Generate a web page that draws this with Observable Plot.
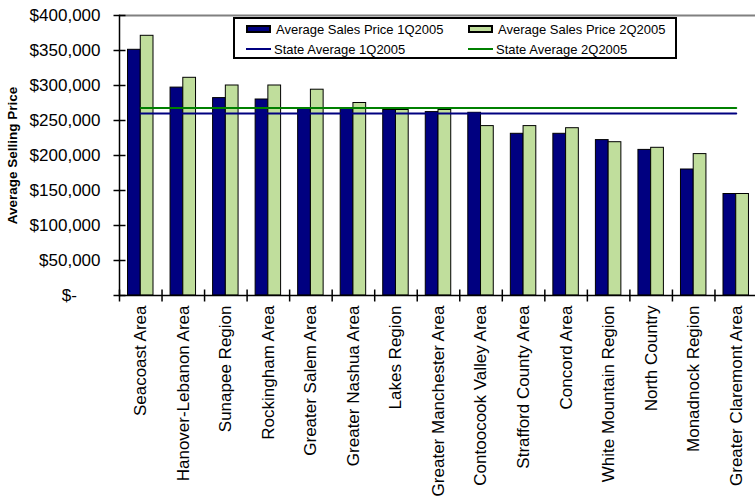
<!DOCTYPE html>
<html>
<head>
<meta charset="utf-8">
<script src="https://cdn.jsdelivr.net/npm/d3@7"></script>
<script src="https://cdn.jsdelivr.net/npm/@observablehq/plot@0.6"></script>
<style>
  body { margin: 0; background: white; font-family: "Liberation Sans", Arial, sans-serif; }
  #chart { position: relative; width: 755px; height: 497px; overflow: hidden; }
  #chart svg { position: absolute; left: 0; top: 0; }
  #legend {
    position: absolute; left: 233px; top: 17px; width: 444px; height: 42px;
    box-sizing: border-box; border: 2px solid black; background: white;
    display: grid; grid-template-columns: 222px 210px; grid-auto-rows: 20px;
    padding: 0 0 0 11px; font-size: 13px; color: black;
  }
  #legend .item { display: flex; align-items: center; white-space: nowrap; }
  #legend .bar { width: 21px; height: 4px; border: 2px solid black; margin-right: 5px; }
  #legend .line { width: 25px; height: 2px; margin-right: 3px; }
</style>
</head>
<body>
<div id="chart"></div>
<script>
const regions = [
  "Seacoast Area", "Hanover-Lebanon Area", "Sunapee Region", "Rockingham Area",
  "Greater Salem Area", "Greater Nashua Area", "Lakes Region", "Greater Manchester Area",
  "Contoocook Valley Area", "Strafford County Area", "Concord Area", "White Mountain Region",
  "North Country", "Monadnock Region", "Greater Claremont Area"
];
const quarters = ["Average Sales Price 1Q2005", "Average Sales Price 2Q2005"];
const price1Q = [351000, 297000, 282000, 280000, 267000, 267000, 265000, 262000, 261000, 231000, 231000, 222000, 208000, 180000, 145000];
const price2Q = [371000, 311000, 300000, 300000, 294000, 275000, 265000, 265000, 242000, 242000, 239000, 219000, 211000, 202000, 145000];
const stateLabels = ["State Average 1Q2005", "State Average 2Q2005"];
const stateAverages = [260000, 268000];
const yTicks = [0, 50000, 100000, 150000, 200000, 250000, 300000, 350000, 400000];

const barColors = ["#000080", "#C0DE9C"];
const lineColors = ["#000080", "#008000"];

const rows = regions.flatMap((region, i) => [
  {region, quarter: quarters[0], price: price1Q[i]},
  {region, quarter: quarters[1], price: price2Q[i]}
]);

// short tick marks drawn as dot symbols
const vTick = {draw(ctx) { ctx.moveTo(0, -6); ctx.lineTo(0, 6); }};
const hTick = {draw(ctx) { ctx.moveTo(-6, 0); ctx.lineTo(6, 0); }};

const dims = {
  width: 755,
  height: 497,
  marginLeft: 119,
  marginRight: -2,
  marginTop: 15,
  marginBottom: 202
};
const font = {fontFamily: "'Liberation Sans', Arial, sans-serif", fontSize: "17px", color: "black"};

const money = d => d === 0 ? "$-\u00a0\u00a0\u00a0\u00a0\u00a0" : d3.format("$,")(d);

const bars = Plot.plot({
  ...dims,
  style: {...font, background: "white"},
  fx: {domain: regions, paddingInner: 0, paddingOuter: 0, round: false, axis: null},
  x: {domain: quarters, paddingInner: 0, paddingOuter: 0.67, round: false, axis: null},
  y: {domain: [0, 400000], axis: null},
  color: {domain: quarters, range: barColors},
  marks: [
    Plot.barY(rows, {fx: "region", x: "quarter", y: "price", fill: "quarter", stroke: "black", strokeWidth: 1}),
    Plot.dot(regions, {fx: d => d, frameAnchor: "bottom-left", symbol: vTick, stroke: "black", strokeWidth: 1.5})
  ]
});

const overlay = Plot.plot({
  ...dims,
  style: {...font, background: "transparent"},
  x: {type: "band", domain: regions, padding: 0, round: false},
  y: {domain: [0, 400000]},
  marks: [
    Plot.ruleY([400000], {stroke: "#808080", strokeWidth: 2}),
    ...stateAverages.map((v, k) =>
      Plot.lineY([regions[0], regions[regions.length - 1]], {x: d => d, y: () => v, stroke: lineColors[k], strokeWidth: 2})
    ),
    Plot.ruleY([0], {stroke: "black", strokeWidth: 1.5}),
    Plot.frame({anchor: "left", stroke: "black", strokeWidth: 1.5}),
    Plot.dot(yTicks, {y: d => d, frameAnchor: "left", symbol: hTick, stroke: "black", strokeWidth: 1.5}),
    Plot.axisY(yTicks, {tickSize: 0, tickPadding: 19, tickFormat: money, label: null, fontSize: 17}),
    Plot.axisX({tickSize: 0, tickPadding: 10, tickRotate: -90, label: null, fontSize: 17}),
    Plot.text(["Average Selling Price"], {frameAnchor: "left", textAnchor: "middle", rotate: -90, dx: -107, fontWeight: "bold", fontSize: 13.5})
  ]
});

const chart = d3.select("#chart");
chart.append(() => bars);
chart.append(() => overlay);

const legend = chart.append("div").attr("id", "legend");
quarters.forEach((q, k) => {
  const item = legend.append("div").attr("class", "item").style("grid-row", 1).style("grid-column", k + 1);
  item.append("span").attr("class", "bar").style("background", barColors[k]);
  item.append("span").text(q);
});
stateLabels.forEach((s, k) => {
  const item = legend.append("div").attr("class", "item").style("grid-row", 2).style("grid-column", k + 1);
  item.append("span").attr("class", "line").style("background", lineColors[k]);
  item.append("span").text(s);
});
</script>
</body>
</html>
